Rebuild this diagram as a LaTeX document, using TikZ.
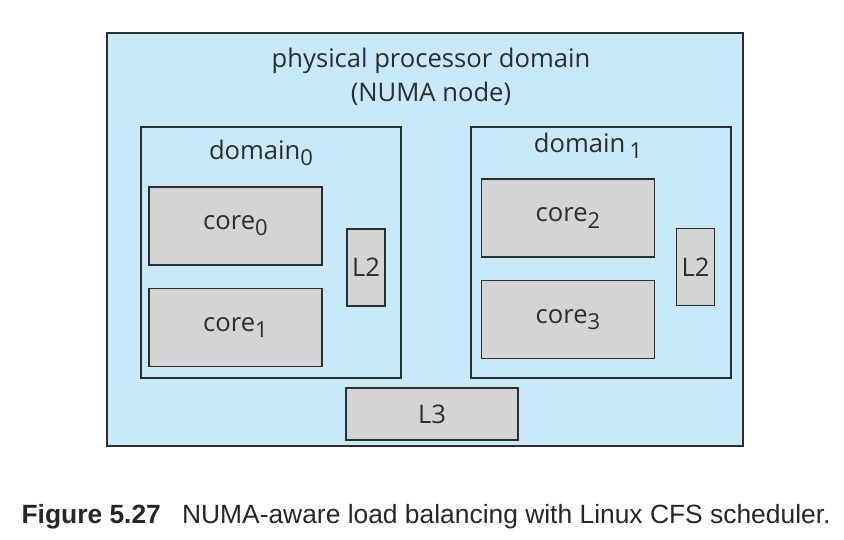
\documentclass[tikz,border=0pt]{standalone}
\usepackage{fontspec}
\setmainfont{Open Sans}
\newfontfamily\capfont{Liberation Sans}
\usetikzlibrary{positioning}

\definecolor{numablue}{RGB}{200,233,249}
\definecolor{coregray}{RGB}{212,212,213}
\definecolor{edgegray}{RGB}{45,45,45}
\newcommand\lowidx[1]{\raisebox{-0.45ex}{\fontsize{22}{23}\selectfont #1}}

\begin{document}
\begin{tikzpicture}[x=1pt,y=-1pt,
    box/.style={draw=edgegray,line width=1.8pt,rectangle,inner sep=0pt},
    domainbox/.style={box,minimum width=260pt,minimum height=251pt},
    corebox/.style={box,fill=coregray,minimum width=173pt,minimum height=78pt},
    cachebox/.style={box,fill=coregray,minimum width=38pt,minimum height=77pt},
    lbl/.style={font=\fontsize{25.6}{34}\selectfont,text=edgegray}]
  \useasboundingbox (0,0) rectangle (844,540);
  \node[box,fill=numablue,minimum width=636pt,minimum height=413pt] (numa) at (425,239.5) {};
  \node[lbl,align=center] (title) at (431,77) {physical processor domain\\(NUMA node)};

  % domain 0
  \node[domainbox] (dom0) at (271,252.5) {};
  \node[lbl] (dom0lbl) at (261,153) {domain\lowidx{0}};
  \node[corebox] (core0) at (235.5,226) {};
  \node[lbl] at (core0) {core\lowidx{0}};
  \node[corebox] (core1) at (235.5,327.5) {};
  \node[lbl] at (core1) {core\lowidx{1}};
  \node[cachebox] (ltwoa) at (366,267.5) {};
  \node[lbl] at (ltwoa) {L2};

  % domain 1
  \node[domainbox] (dom1) at (601,252.5) {};
  \node[lbl] (dom1lbl) at (588,146) {domain\,\lowidx{1}};
  \node[corebox] (core2) at (568,218) {};
  \node[lbl] at (core2) {core\lowidx{2}};
  \node[corebox] (core3) at (568,319.5) {};
  \node[lbl] at (core3) {core\lowidx{3}};
  \node[cachebox] (ltwob) at (695.5,267) {};
  \node[lbl] at (ltwob) {L2};

  \node[box,fill=coregray,minimum width=172pt,minimum height=52pt] (lthree) at (432,414) {};
  \node[lbl] at (lthree) {L3};

  \node[anchor=west,font=\capfont\fontsize{26.4}{30}\selectfont,text=black!85] (caption) at (18,517)
    {\textbf{Figure 5.27}\hspace{0.8em}NUMA-aware load balancing with Linux CFS scheduler.};
\end{tikzpicture}
\end{document}
